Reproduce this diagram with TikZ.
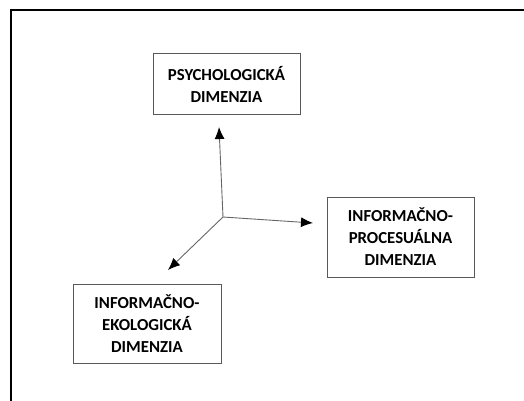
\documentclass[tikz,border=0pt]{standalone}
\usepackage{fontspec}
\setmainfont{Carlito}
\usetikzlibrary{arrows.meta}
\begin{document}
\begin{tikzpicture}[x=1pt,y=-1pt,
  dimbox/.style={draw=black!65, line width=1pt, fill=white, align=center,
    font=\fontsize{16.8}{22}\selectfont\bfseries, text=black, inner sep=0pt},
  axis/.style={draw=black!60, line width=0.9pt,
    -{Latex[length=12pt,width=10pt,color=black]}}]
  \useasboundingbox (0,0) rectangle (524,401);
  % page frame: top and left edges only
  \draw[line width=2pt] (11,401) -- (11,10) -- (524,10);
  % dimension boxes
  \node[dimbox, minimum width=147pt, minimum height=61pt] (psy) at (226.5,84) {PSYCHOLOGICKÁ\\DIMENZIA};
  \node[dimbox, minimum width=147pt, minimum height=80pt] (proc) at (400.5,237) {INFORMAČNO-\\PROCESUÁLNA\\DIMENZIA};
  \node[dimbox, minimum width=148pt, minimum height=79pt] (eko) at (147,323.5) {INFORMAČNO-\\EKOLOGICKÁ\\DIMENZIA};
  % arrow origin and tips
  \coordinate (o) at (223,217);
  \coordinate (tpsy) at (219,127);
  \coordinate (tproc) at (313,223);
  \coordinate (teko) at (168,270);
  \draw[axis] (o) -- (tpsy);
  \draw[axis] (o) -- (tproc);
  \draw[axis] (o) -- (teko);
\end{tikzpicture}
\end{document}
